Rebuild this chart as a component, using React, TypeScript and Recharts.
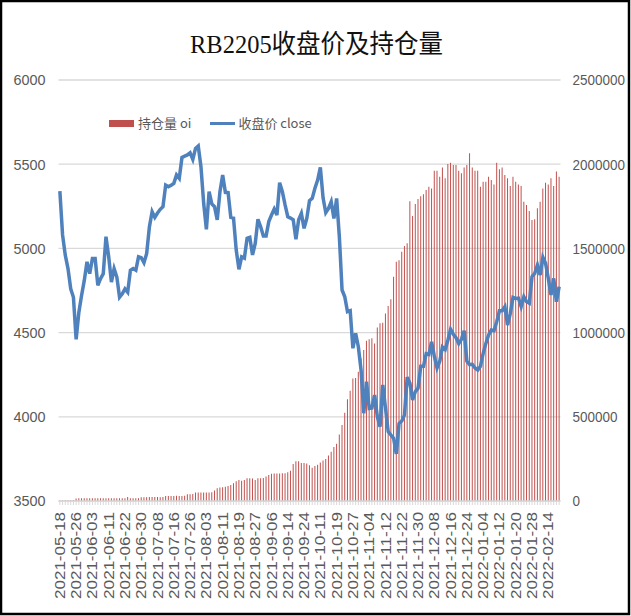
import React from 'react';
import { ComposedChart, Bar, Line, XAxis, YAxis, CartesianGrid, Legend } from 'recharts';

const dates = [
  '2021-05-18','2021-05-19','2021-05-20','2021-05-21','2021-05-24','2021-05-25','2021-05-26','2021-05-27','2021-05-28','2021-05-31',
  '2021-06-01','2021-06-02','2021-06-03','2021-06-04','2021-06-07','2021-06-08','2021-06-09','2021-06-10','2021-06-11','2021-06-15',
  '2021-06-16','2021-06-17','2021-06-18','2021-06-21','2021-06-22','2021-06-23','2021-06-24','2021-06-25','2021-06-28','2021-06-29',
  '2021-06-30','2021-07-01','2021-07-02','2021-07-05','2021-07-06','2021-07-07','2021-07-08','2021-07-09','2021-07-12','2021-07-13',
  '2021-07-14','2021-07-15','2021-07-16','2021-07-19','2021-07-20','2021-07-21','2021-07-22','2021-07-23','2021-07-26','2021-07-27',
  '2021-07-28','2021-07-29','2021-07-30','2021-08-02','2021-08-03','2021-08-04','2021-08-05','2021-08-06','2021-08-09','2021-08-10',
  '2021-08-11','2021-08-12','2021-08-13','2021-08-16','2021-08-17','2021-08-18','2021-08-19','2021-08-20','2021-08-23','2021-08-24',
  '2021-08-25','2021-08-26','2021-08-27','2021-08-30','2021-08-31','2021-09-01','2021-09-02','2021-09-03','2021-09-06','2021-09-07',
  '2021-09-08','2021-09-09','2021-09-10','2021-09-13','2021-09-14','2021-09-15','2021-09-16','2021-09-17','2021-09-22','2021-09-23',
  '2021-09-24','2021-09-27','2021-09-28','2021-09-29','2021-09-30','2021-10-08','2021-10-11','2021-10-12','2021-10-13','2021-10-14',
  '2021-10-15','2021-10-18','2021-10-19','2021-10-20','2021-10-21','2021-10-22','2021-10-25','2021-10-26','2021-10-27','2021-10-28',
  '2021-10-29','2021-11-01','2021-11-02','2021-11-03','2021-11-04','2021-11-05','2021-11-08','2021-11-09','2021-11-10','2021-11-11',
  '2021-11-12','2021-11-15','2021-11-16','2021-11-17','2021-11-18','2021-11-19','2021-11-22','2021-11-23','2021-11-24','2021-11-25',
  '2021-11-26','2021-11-29','2021-11-30','2021-12-01','2021-12-02','2021-12-03','2021-12-06','2021-12-07','2021-12-08','2021-12-09',
  '2021-12-10','2021-12-13','2021-12-14','2021-12-15','2021-12-16','2021-12-17','2021-12-20','2021-12-21','2021-12-22','2021-12-23',
  '2021-12-24','2021-12-27','2021-12-28','2021-12-29','2021-12-30','2021-12-31','2022-01-04','2022-01-05','2022-01-06','2022-01-07',
  '2022-01-10','2022-01-11','2022-01-12','2022-01-13','2022-01-14','2022-01-17','2022-01-18','2022-01-19','2022-01-20','2022-01-21',
  '2022-01-24','2022-01-25','2022-01-26','2022-01-27','2022-01-28','2022-02-07','2022-02-08','2022-02-09','2022-02-10','2022-02-11',
  '2022-02-14','2022-02-15','2022-02-16','2022-02-17','2022-02-18',
];

const closePrice = [
  5340,5080,4960,4880,4760,4710,4460,4620,4720,4810,
  4920,4850,4940,4940,4780,4820,4850,5070,4950,4800,
  4880,4830,4710,4730,4760,4740,4870,4880,4870,4950,
  4945,4915,4970,5128,5218,5184,5210,5232,5248,5376,
  5366,5375,5386,5436,5416,5540,5548,5555,5568,5529,
  5594,5608,5485,5268,5113,5337,5264,5248,5169,5337,
  5436,5333,5331,5184,5180,4990,4876,4950,4942,5060,
  5066,4961,5030,5173,5129,5074,5074,5159,5198,5234,
  5198,5390,5337,5258,5188,5180,5170,5054,5170,5208,
  5119,5178,5283,5297,5357,5406,5481,5300,5212,5237,
  5277,5178,5297,5070,4753,4713,4624,4630,4407,4496,
  4416,4278,4021,4208,4050,4053,4129,4001,3941,4189,
  4053,3912,3892,3872,3780,3960,3975,4010,4235,4200,
  4100,4150,4170,4300,4300,4375,4370,4445,4360,4290,
  4330,4415,4400,4455,4520,4490,4470,4435,4460,4511,
  4330,4310,4312,4290,4278,4300,4377,4436,4486,4515,
  4511,4565,4630,4630,4654,4545,4614,4709,4703,4705,
  4654,4713,4683,4674,4832,4852,4901,4842,4947,4911,
  4822,4723,4822,4683,4773,
];

const openInterest = [
  3000,3000,4000,4000,5000,6000,15000,16000,16000,17000,
  16000,16000,17000,16000,16000,17000,16000,16000,17000,16000,
  16000,17000,16000,17000,16000,24000,16000,16000,17000,16000,
  22000,22000,22000,24000,24000,24000,24000,23000,24000,30000,
  30000,30000,30000,31000,30000,30000,31000,40000,40000,41000,
  50000,50000,50000,50000,51000,50000,52000,62000,75000,80000,
  82000,85000,89000,95000,105000,118000,125000,120000,125000,135000,
  135000,134000,125000,135000,135000,136000,145000,155000,162000,164000,
  164000,163000,165000,165000,170000,180000,220000,236000,236000,226000,
  226000,222000,212000,198000,208000,215000,228000,240000,250000,270000,
  293000,320000,340000,395000,451000,524000,604000,655000,728000,730000,
  768000,847000,897000,952000,960000,966000,935000,1031000,1055000,1059000,
  1114000,1158000,1198000,1332000,1420000,1430000,1480000,1514000,1530000,1780000,
  1692000,1763000,1793000,1810000,1821000,1847000,1866000,1856000,1961000,1961000,
  1926000,1981000,1916000,2001000,2009000,1995000,1995000,1961000,1946000,1981000,
  1995000,2065000,1981000,1961000,1961000,1866000,1896000,1896000,1926000,1906000,
  1880000,2009000,1970000,1981000,1936000,1916000,1870000,1926000,1896000,1880000,
  1870000,1777000,1758000,1722000,1669000,1673000,1738000,1777000,1856000,1890000,
  1880000,1916000,1870000,1956000,1926000,
];

const priceTicks = [3500, 4000, 4500, 5000, 5500, 6000];
const oiTicks = [0, 500000, 1000000, 1500000, 2000000, 2500000];
const labelEvery = 6;

const titleText = 'RB2205收盘价及持仓量';
const oiName = '持仓量 oi';
const closeName = '收盘价 close';

const RED = '#C0504D';
const BLUE = '#4F81BD';
const GREY_TEXT = '#595959';
const GRID = '#d9d9d9';

const data = dates.map((d, i) => ({ date: d, oi: openInterest[i], close: closePrice[i] }));

function XTick(props: any) {
  const { x, y, payload } = props;
  const idx = dates.indexOf(payload.value);
  if (idx % labelEvery !== 0) return <g />;
  return (
    <text
      x={x}
      y={y}
      transform={`rotate(-90 ${x} ${y})`}
      textAnchor="end"
      dy="0.36em"
      fontSize={14}
      fill={GREY_TEXT}
      fontFamily="'Liberation Sans', Arial, sans-serif"
      textLength={87}
      lengthAdjust="spacingAndGlyphs"
    >
      {payload.value}
    </text>
  );
}

function LeftTick(props: any) {
  const { x, y, payload } = props;
  const s = String(payload.value);
  return (
    <text x={x} y={y} dy="0.36em" textAnchor="end" fontSize={15} fill={GREY_TEXT}
      fontFamily="'Liberation Sans', Arial, sans-serif" textLength={s.length * 8} lengthAdjust="spacingAndGlyphs">
      {s}
    </text>
  );
}

function RightTick(props: any) {
  const { x, y, payload } = props;
  const s = String(payload.value);
  return (
    <text x={x} y={y} dy="0.36em" textAnchor="start" fontSize={15} fill={GREY_TEXT}
      fontFamily="'Liberation Sans', Arial, sans-serif" textLength={s.length * 7.5} lengthAdjust="spacingAndGlyphs">
      {s}
    </text>
  );
}

function LegendContent() {
  const txt: React.CSSProperties = { fontFamily: "'Noto Sans CJK SC', sans-serif", fontSize: 13, color: GREY_TEXT, lineHeight: '16px' };
  return (
    <div style={{ display: 'flex', alignItems: 'center', whiteSpace: 'nowrap' }}>
      <span style={{ display: 'inline-block', width: 25, height: 7, background: RED, marginRight: 4 }} />
      <span style={txt}>{oiName}</span>
      <span style={{ display: 'inline-block', width: 25, height: 3, background: BLUE, marginLeft: 19, marginRight: 3 }} />
      <span style={txt}>{closeName}</span>
    </div>
  );
}

export default function App() {
  return (
    <div style={{ position: 'absolute', left: 0, top: 0, width: 631, height: 616, background: '#fff', overflow: 'hidden' }}>
      <ComposedChart
        width={631}
        height={616}
        data={data}
        margin={{ top: 80, right: 0, bottom: 0, left: 0 }}
        barCategoryGap="30%"
      >
        <CartesianGrid yAxisId="left" horizontal vertical={false} stroke={GRID} strokeWidth={1.3} />
        <XAxis
          dataKey="date"
          interval={0}
          height={115}
          tick={<XTick />}
          tickSize={4}
          tickMargin={7}
          tickLine={{ stroke: GRID }}
          axisLine={{ stroke: GRID, strokeWidth: 1.3 }}
        />
        <YAxis
          yAxisId="left"
          orientation="left"
          width={58.5}
          domain={[3500, 6000]}
          ticks={priceTicks}
          interval={0}
          axisLine={false}
          tickLine={false}
          tickSize={0}
          tickMargin={13}
          tick={<LeftTick />}
        />
        <YAxis
          yAxisId="right"
          orientation="right"
          width={70.5}
          domain={[0, 2500000]}
          ticks={oiTicks}
          interval={0}
          axisLine={false}
          tickLine={false}
          tickSize={0}
          tickMargin={12}
          tick={<RightTick />}
        />
        <Legend
          layout="horizontal"
          verticalAlign="middle"
          align="center"
          content={<LegendContent />}
          wrapperStyle={{ position: 'absolute', top: 115, left: 109, width: 'auto', height: 'auto' }}
        />
        <Bar yAxisId="right" dataKey="oi" name={oiName} fill={RED} isAnimationActive={false} />
        <Line yAxisId="left" dataKey="close" name={closeName} type="linear" stroke={BLUE} strokeWidth={3.5} dot={false} activeDot={false} isAnimationActive={false} />
      </ComposedChart>
      <svg width={631} height={616} style={{ position: 'absolute', left: 0, top: 0, pointerEvents: 'none' }}>
        <text x={316.5} y={53} textAnchor="middle" fontSize={26} fill="#111"
          fontFamily="'Liberation Serif', 'Noto Sans CJK SC', serif" textLength={253} lengthAdjust="spacingAndGlyphs">
          {titleText}
        </text>
        <rect x={1} y={1} width={628} height={613} fill="none" stroke="#000" strokeWidth={2.5} />
      </svg>
    </div>
  );
}
